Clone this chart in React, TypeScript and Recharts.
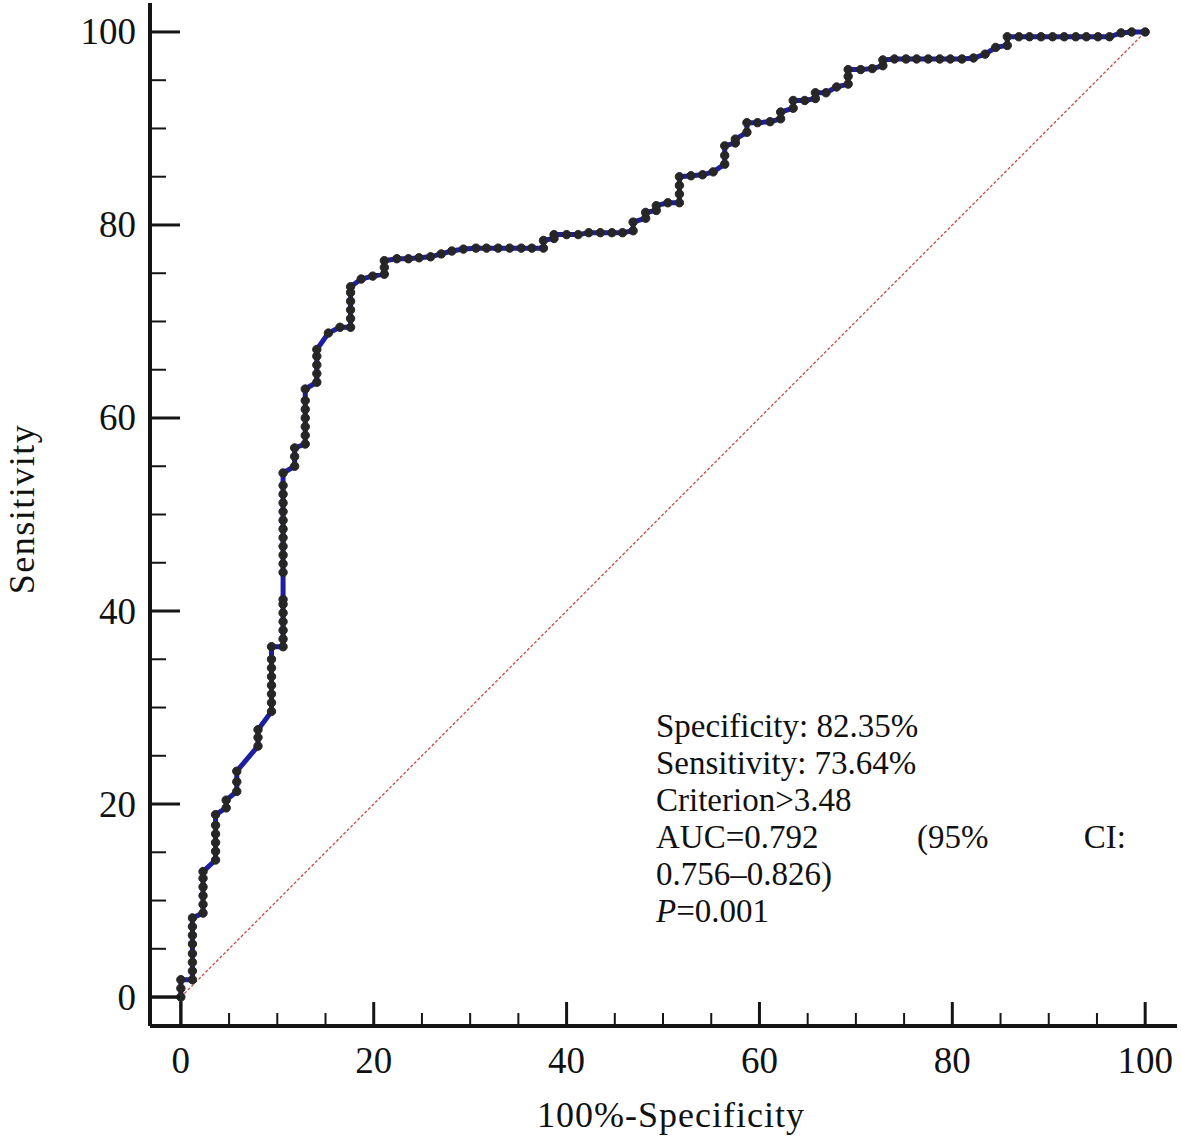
import React from 'react';
import { LineChart, Line, XAxis, YAxis, ReferenceLine, Label } from 'recharts';

// ROC curve points: [100% - specificity, sensitivity]
const rocPoints: [number, number][] = [
  [0, 0], [0, 0.9], [0, 1.8],
  [1.2, 1.8], [1.2, 2.7], [1.2, 3.6], [1.2, 4.5], [1.2, 5.5], [1.2, 6.4], [1.2, 7.3], [1.2, 8.2],
  [2.3, 8.7], [2.3, 9.6], [2.3, 10.5], [2.3, 11.4], [2.3, 12.3], [2.3, 13.0],
  [3.6, 14.2], [3.6, 15.1], [3.6, 16.0], [3.6, 16.9], [3.6, 17.8], [3.6, 18.9],
  [4.7, 19.6], [4.7, 20.4],
  [5.8, 21.3], [5.8, 22.3], [5.8, 23.4],
  [8.0, 26.0], [8.0, 26.9], [8.0, 27.7],
  [9.4, 29.6], [9.4, 30.5], [9.4, 31.4], [9.4, 32.3], [9.4, 33.2], [9.4, 34.1], [9.4, 35.0], [9.4, 36.3],
  [10.6, 36.3], [10.6, 37.1], [10.6, 38.0], [10.6, 38.9], [10.6, 39.8], [10.6, 40.7], [10.6, 41.2],
  [10.6, 44.0], [10.6, 44.9], [10.6, 45.8], [10.6, 46.7], [10.6, 47.6], [10.6, 48.5], [10.6, 49.4],
  [10.6, 50.3], [10.6, 51.2], [10.6, 52.1], [10.6, 53.0], [10.6, 54.3],
  [11.8, 55.0], [11.8, 56.0], [11.8, 56.9],
  [12.9, 57.3], [12.9, 58.2], [12.9, 59.1], [12.9, 60.0], [12.9, 60.9], [12.9, 61.8], [12.9, 63.0],
  [14.1, 63.7], [14.1, 64.6], [14.1, 65.5], [14.1, 66.4], [14.1, 67.1],
  [15.3, 68.8], [16.5, 69.4],
  [17.6, 69.4], [17.6, 70.3], [17.6, 71.2], [17.6, 72.1], [17.6, 73.0], [17.6, 73.6],
  [18.7, 74.4], [19.9, 74.7], [21.1, 74.9], [21.1, 75.6], [21.1, 76.3],
  [22.4, 76.5], [23.6, 76.5], [24.7, 76.6], [25.9, 76.7], [27.0, 77.0], [28.1, 77.3], [29.3, 77.5],
  [30.6, 77.6], [31.7, 77.6], [32.9, 77.6], [34.1, 77.6], [35.3, 77.6], [36.4, 77.6], [37.6, 77.6], [37.6, 78.4],
  [38.7, 78.6], [38.7, 79.0], [40.0, 79.0], [41.2, 79.0], [42.3, 79.2], [43.5, 79.2], [44.7, 79.2], [45.8, 79.2],
  [46.9, 79.4], [46.9, 80.3], [48.2, 80.7], [48.2, 81.3], [49.3, 81.5], [49.3, 82.0], [50.5, 82.3],
  [51.7, 82.3], [51.7, 83.2], [51.7, 84.1], [51.7, 85.0],
  [52.9, 85.1], [54.1, 85.2], [55.2, 85.5],
  [56.4, 86.3], [56.4, 87.2], [56.4, 88.2],
  [57.5, 88.5], [57.5, 88.9],
  [58.7, 89.6], [58.7, 90.6],
  [59.8, 90.6], [61.1, 90.7],
  [62.2, 91.0], [62.2, 91.7],
  [63.5, 92.1], [63.5, 92.9],
  [64.7, 92.9],
  [65.8, 93.1], [65.8, 93.7],
  [66.9, 93.7], [68.0, 94.3],
  [69.2, 94.6], [69.2, 95.4], [69.2, 96.1],
  [70.5, 96.1], [71.7, 96.2],
  [72.8, 96.5], [72.8, 97.1],
  [74.0, 97.2], [75.2, 97.2], [76.3, 97.2], [77.5, 97.2], [78.7, 97.2], [79.8, 97.2], [81.0, 97.2],
  [82.2, 97.3], [83.4, 97.7], [84.5, 98.4],
  [85.7, 98.6], [85.7, 99.5],
  [86.9, 99.5], [88.0, 99.5], [89.2, 99.5], [90.4, 99.5], [91.6, 99.5], [92.8, 99.5], [93.9, 99.5],
  [95.1, 99.5], [96.3, 99.5], [97.5, 99.9], [98.6, 100], [100, 100],
];

const axisTicks = [0, 5, 10, 15, 20, 25, 30, 35, 40, 45, 50, 55, 60, 65, 70, 75, 80, 85, 90, 95, 100];
const majorTicks = [0, 20, 40, 60, 80, 100];
const xDomain: [number, number] = [-3.2, 103.3];
const yDomain: [number, number] = [-3, 103];
const xTitle = '100%-Specificity';
const yTitle = 'Sensitivity';
const statLines = ['Specificity: 82.35%', 'Sensitivity: 73.64%', 'Criterion>3.48'];
const aucText = ['AUC=0.792', '(95%', 'CI:'];
const ciText = '0.756\u20130.826)';
const pText = ['P', '=0.001'];

const FONT = "'Liberation Serif', 'Times New Roman', serif";

const rocData = rocPoints.map(([x, y]) => ({ x, y }));

const XTick = (props: any) => {
  const { x, y, payload } = props;
  const major = majorTicks.includes(payload.value);
  return (
    <g>
      <line x1={x} x2={x} y1={y} y2={y - (major ? 24 : 13)} stroke="#151515" strokeWidth={major ? 3 : 2} />
      {major && (
        <text x={x} y={y + 34} textAnchor="middle" dominantBaseline="central" fontSize={37} fontFamily={FONT} fill="#111">
          {payload.value}
        </text>
      )}
    </g>
  );
};

const YTick = (props: any) => {
  const { x, y, payload } = props;
  const major = majorTicks.includes(payload.value);
  return (
    <g>
      <line x1={x} x2={x + (major ? 30 : 16)} y1={y} y2={y} stroke="#151515" strokeWidth={major ? 3 : 2} />
      {major && (
        <text x={x - 14} y={y} textAnchor="end" dominantBaseline="central" fontSize={37} fontFamily={FONT} fill="#111">
          {payload.value}
        </text>
      )}
    </g>
  );
};

const XTitle = (props: any) => {
  const vb = props.viewBox || { x: 150, y: 1026, width: 1027, height: 114 };
  return (
    <text x={671} y={vb.y + 89} textAnchor="middle" dominantBaseline="central" fontSize={36} letterSpacing={1} fontFamily={FONT} fill="#111">
      {xTitle}
    </text>
  );
};

const YTitle = () => (
  <text x={22} y={509} transform="rotate(-90 22 509)" textAnchor="middle" dominantBaseline="central" fontSize={36} letterSpacing={1.5} fontFamily={FONT} fill="#111">
    {yTitle}
  </text>
);

export default function App() {
  const baseX = 656;
  return (
    <div style={{ position: 'absolute', left: 0, top: 0, width: 1181, height: 1140, background: '#fff' }}>
      <LineChart width={1181} height={1140} data={rocData} margin={{ top: 3, right: 4, bottom: 0, left: 0 }}>
        <XAxis
          type="number"
          dataKey="x"
          domain={xDomain}
          ticks={axisTicks}
          allowDataOverflow
          height={114}
          tickSize={0}
          tickMargin={0}
          tickLine={false}
          axisLine={{ stroke: '#151515', strokeWidth: 4 }}
          tick={<XTick />}
          interval={0}
        >
          <Label content={<XTitle />} />
        </XAxis>
        <YAxis
          type="number"
          dataKey="y"
          domain={yDomain}
          ticks={axisTicks}
          allowDataOverflow
          width={150}
          tickSize={0}
          tickMargin={0}
          tickLine={false}
          axisLine={{ stroke: '#151515', strokeWidth: 4 }}
          tick={<YTick />}
          interval={0}
        >
          <Label content={<YTitle />} />
        </YAxis>
        <ReferenceLine segment={[{ x: xDomain[0], y: 0 }, { x: 0, y: 0 }]} stroke="#151515" strokeWidth={3} ifOverflow="extendDomain" />
        <ReferenceLine segment={[{ x: 0, y: yDomain[0] }, { x: 0, y: 0 }]} stroke="#151515" strokeWidth={3} ifOverflow="extendDomain" />
        <ReferenceLine segment={[{ x: 0, y: 0 }, { x: 100, y: 100 }]} stroke="#c44a44" strokeWidth={1.3} strokeDasharray="3 2" />
        <Line
          type="linear"
          dataKey="y"
          stroke="#1e1ea3"
          strokeWidth={5}
          dot={{ r: 4.2, fill: '#262626', stroke: '#262626', strokeWidth: 1 }}
          activeDot={false}
          isAnimationActive={false}
        />
        <g fontFamily={FONT} fontSize={33} fill="#111">
          {statLines.map((t, i) => (
            <text key={t} x={baseX} y={737 + i * 37}>{t}</text>
          ))}
          <text x={baseX} y={848}>{aucText[0]}</text>
          <text x={917} y={848}>{aucText[1]}</text>
          <text x={1126} y={848} textAnchor="end">{aucText[2]}</text>
          <text x={baseX} y={885}>{ciText}</text>
          <text x={baseX} y={922}>
            <tspan fontStyle="italic">{pText[0]}</tspan>
            <tspan>{pText[1]}</tspan>
          </text>
        </g>
      </LineChart>
    </div>
  );
}
